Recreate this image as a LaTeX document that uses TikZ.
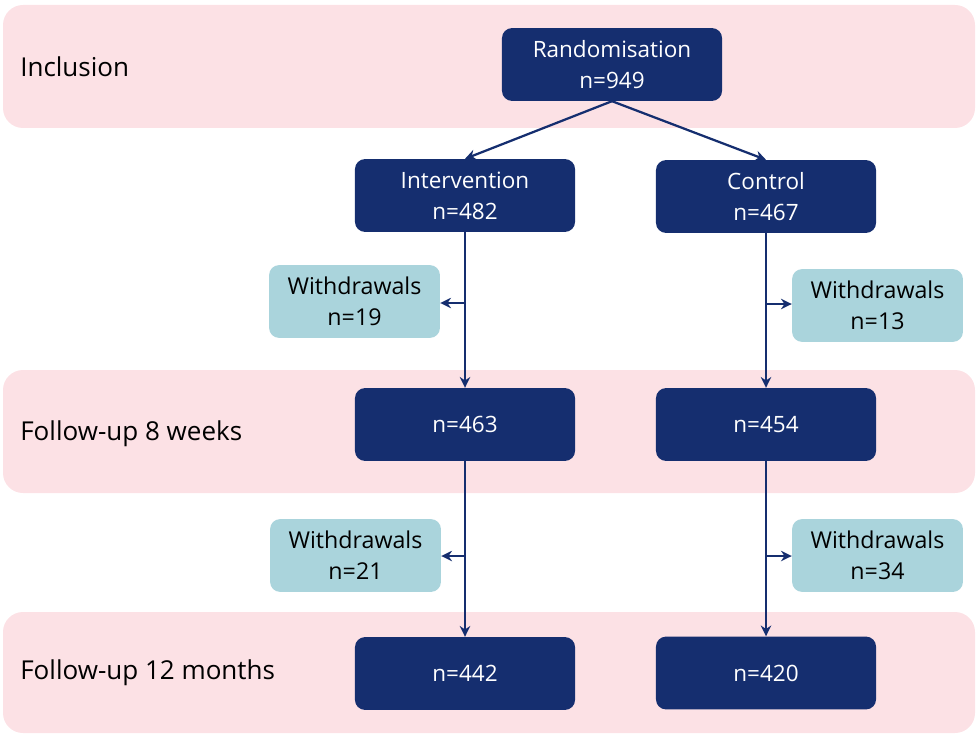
\documentclass[tikz,border=0pt]{standalone}
\usepackage{fontspec}
\setmainfont{Open Sans}
\usetikzlibrary{arrows.meta}
\definecolor{navy}{HTML}{152E6F}
\definecolor{lightteal}{HTML}{AAD4DC}
\definecolor{bandpink}{HTML}{FCE1E5}
\begin{document}
\begin{tikzpicture}[x=0.025cm,y=-0.025cm,
  band/.style={fill=bandpink, draw=none, rounded corners=0.5cm},
  stage/.style={fill=navy, draw=none, rounded corners=0.25cm, text=white,
    minimum width=5.5cm, minimum height=1.82cm, align=center,
    font=\fontsize{16}{22}\selectfont},
  wbox/.style={fill=lightteal, draw=none, rounded corners=0.25cm, text=black,
    minimum width=4.27cm, minimum height=1.82cm, align=center,
    font=\fontsize{16.5}{22}\selectfont},
  phase/.style={anchor=west, inner sep=0pt, text=black, font=\fontsize{18.5}{22}\selectfont},
  flow/.style={draw=navy, line width=1.6pt, -{Stealth[length=0.27cm,width=0.26cm]}}]
\useasboundingbox (0,0) rectangle (977,735);

% phase bands
\fill[band] (3,5) rectangle (975,128);
\fill[band] (3,370) rectangle (975,493);
\fill[band] (3,612) rectangle (975,733);
\node[phase] (lInc) at (20,67) {Inclusion};
\node[phase] (lF8) at (20,434) {Follow-up 8 weeks};
\node[phase] (lF12) at (20,673) {Follow-up 12 months};

% main flow
\node[stage] (rand) at (612,64.5) {Randomisation\\n=949};
\node[stage] (int) at (465,195.5) {Intervention\\n=482};
\node[stage] (con) at (766,196.5) {Control\\n=467};
\node[stage] (i8) at (465,424.5) {n=463};
\node[stage] (c8) at (766,424.5) {n=454};
\node[stage] (i12) at (465,673.5) {n=442};
\node[stage] (c12) at (766,673) {n=420};

% withdrawals
\node[wbox] (wi1) at (354.5,301.5) {Withdrawals\\n=19};
\node[wbox] (wc1) at (877.5,305.5) {Withdrawals\\n=13};
\node[wbox] (wi2) at (355.5,555.5) {Withdrawals\\n=21};
\node[wbox] (wc2) at (877.5,555.5) {Withdrawals\\n=34};

\draw[flow] (rand.south) -- (int.north);
\draw[flow] (rand.south) -- (con.north);
\draw[flow] (int.south) -- (i8.north);
\draw[flow] (con.south) -- (c8.north);
\draw[flow] (i8.south) -- (i12.north);
\draw[flow] (c8.south) -- (c12.north);

\coordinate (bi1) at (465,303);
\coordinate (bc1) at (766,304);
\coordinate (bi2) at (465,556);
\coordinate (bc2) at (766,556);
\draw[flow] (bi1) -- (wi1.east |- bi1);
\draw[flow] (bc1) -- (wc1.west |- bc1);
\draw[flow] (bi2) -- (wi2.east |- bi2);
\draw[flow] (bc2) -- (wc2.west |- bc2);
\end{tikzpicture}
\end{document}
